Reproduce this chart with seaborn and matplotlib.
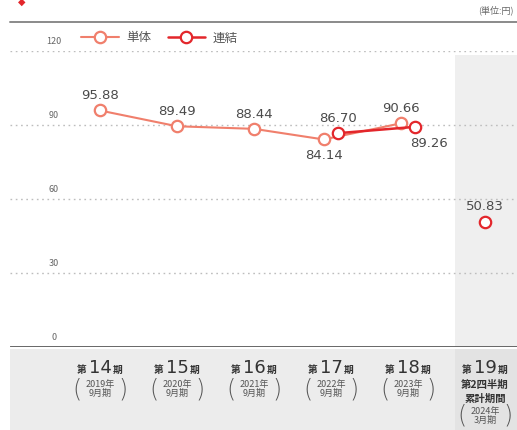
import numpy as np
import pandas as pd
import seaborn as sns
import matplotlib.pyplot as plt
from matplotlib.lines import Line2D
from matplotlib.transforms import blended_transform_factory

# data
period_nums = ["14", "15", "16", "17", "18", "19"]
period_sub = ["2019年\n9月期", "2020年\n9月期", "2021年\n9月期",
              "2022年\n9月期", "2023年\n9月期", "2024年\n3月期"]
tantai = [95.88, 89.49, 88.44, 84.14, 90.66, np.nan]     # 単体
renketsu = [np.nan, np.nan, np.nan, 86.70, 89.26, 50.83]  # 連結
yticks = [0, 30, 60, 90, 120]

C_TANTAI = "#f07f6c"
C_RENKETSU = "#e3262b"
C_TEXT = "#4a4a4a"

sns.set_theme(style="white")
plt.rcParams["font.family"] = ["Noto Sans CJK JP", "DejaVu Sans"]

idx = np.arange(len(period_nums))
both = ~np.isnan(tantai) & ~np.isnan(renketsu)
dodge = 0.095
df = pd.DataFrame({
    "x_t": idx - np.where(both, dodge, 0),
    "x_r": idx + np.where(both, dodge, 0),
    "tantai": tantai,
    "renketsu": renketsu,
})

fig = plt.figure(figsize=(5.17, 4.30), dpi=100)
W, H = 517, 430
ax = fig.add_axes([10 / W, (H - 347) / H, 1 - 10 / W, 296 / H])
xlim = (-1.169, 5.416)
ax.set_xlim(*xlim)
ax.set_ylim(0, 120)

# shaded latest period
ax.axvspan(4.61, xlim[1], ymin=0, ymax=0.985, color="#efefef", lw=0, zorder=0)

# dotted grid
for v in yticks[1:]:
    ax.axhline(v, color="#bdbdbd", lw=1.0, ls=(0, (1.2, 2.6)), zorder=1)
ax.axhline(0, color="#5a5a5a", lw=2.0, zorder=2)
tr = blended_transform_factory(ax.transData, ax.transData)
for v in yticks:
    ax.text(-0.6, v + 2.2, str(v), ha="center", va="bottom", fontsize=6.5,
            color="#666666", transform=tr)

mk = dict(marker="o", markersize=8.2, markerfacecolor="white", markeredgewidth=1.6)
d_t = df.dropna(subset=["tantai"])
sns.lineplot(data=d_t, x="x_t", y="tantai", ax=ax, color=C_TANTAI, lw=1.5,
             markeredgecolor=C_TANTAI, zorder=4, **mk)
d_r = df.dropna(subset=["renketsu"])
d_r_line = d_r[d_r["x_r"] < 4.6]
sns.lineplot(data=d_r_line, x="x_r", y="renketsu", ax=ax, color=C_RENKETSU, lw=1.8,
             markeredgecolor=C_RENKETSU, zorder=5, **mk)
ax.plot(d_r["x_r"].iloc[-1:], d_r["renketsu"].iloc[-1:], ls="none",
        color=C_RENKETSU, markeredgecolor=C_RENKETSU, zorder=5, **mk)

# value labels (offsets in points)
t_off = [(0, 6), (0, 6), (0, 6), (0, -7), (0, 6)]
r_off = {3: (0, 6), 4: (10, -7), 5: (0, 6)}
for i, row in d_t.iterrows():
    dx, dy = t_off[i]
    ax.annotate(f"{row.tantai:.2f}", (row.x_t, row.tantai), xytext=(dx, dy),
                textcoords="offset points", ha="center",
                va="bottom" if dy > 0 else "top", fontsize=9.5, color=C_TEXT,
                family="DejaVu Sans")
for i, row in d_r.iterrows():
    dx, dy = r_off[i]
    ax.annotate(f"{row.renketsu:.2f}", (row.x_r, row.renketsu), xytext=(dx, dy),
                textcoords="offset points", ha="center",
                va="bottom" if dy > 0 else "top", fontsize=9.5, color=C_TEXT,
                family="DejaVu Sans")

ax.set_xlabel("")
ax.set_ylabel("")
ax.set_xticks([])
ax.set_yticks([])
for s in ax.spines.values():
    s.set_visible(False)
ax.patch.set_alpha(0)

# legend
handles = [
    Line2D([], [], color=C_TANTAI, lw=1.5, markeredgecolor=C_TANTAI, **mk),
    Line2D([], [], color=C_RENKETSU, lw=1.8, markeredgecolor=C_RENKETSU, **mk),
]
fig.legend(handles, ["単体", "連結"], loc="center left",
           bbox_to_anchor=(70 / W, 1 - 38 / H), ncol=2, frameon=False,
           fontsize=9, handlelength=3.0, columnspacing=1.3, handletextpad=0.6,
           labelcolor="#555555")

# header line and unit
fig.add_artist(Line2D([10 / W, 1], [1 - 22 / H] * 2, color="#8a8a8a", lw=1.4))
fig.text(514 / W, 1 - 10 / H, "(単位:円)", ha="right", va="center",
         fontsize=6.5, color="#666666")
fig.text(22 / W, 1 - 2 / H, "◆", ha="center", va="center", fontsize=7,
         color=C_RENKETSU, family=["DejaVu Sans"])

# category band
bx = fig.add_axes([10 / W, 0, 1 - 10 / W, 81 / H])
bx.set_xlim(*xlim)
bx.set_ylim(81, 0)
bx.set_facecolor("#ececec")
bx.axvspan(4.61, xlim[1], color="#e3e3e3", lw=0)
bx.set_xticks([])
bx.set_yticks([])
for s in bx.spines.values():
    s.set_visible(False)
for i, (num, sub) in enumerate(zip(period_nums, period_sub)):
    bx.text(i, 19, num, ha="center", va="center", fontsize=13,
            color="#333333", family="DejaVu Sans")
    bx.text(i - 0.17, 21, "第", ha="right", va="center", fontsize=7,
            fontweight="bold", color="#333333")
    bx.text(i + 0.17, 21, "期", ha="left", va="center", fontsize=7,
            fontweight="bold", color="#333333")
    y0 = 40 if i < 5 else 67
    if i == 5:
        bx.text(i, 36, "第2四半期", ha="center", va="center",
                fontsize=7.5, fontweight="bold", color="#333333")
        bx.text(i, 50, "累計期間", ha="center", va="center",
                fontsize=7.5, fontweight="bold", color="#333333")
    bx.text(i, y0, sub, ha="center", va="center", fontsize=6.5,
            color="#555555", linespacing=1.0)
    bx.text(i - 0.3, y0, "(", ha="center", va="center", fontsize=17,
            color="#555555", fontweight="light", family="DejaVu Sans")
    bx.text(i + 0.3, y0, ")", ha="center", va="center", fontsize=17,
            color="#555555", fontweight="light", family="DejaVu Sans")

fig.savefig("out.png", dpi=100)
